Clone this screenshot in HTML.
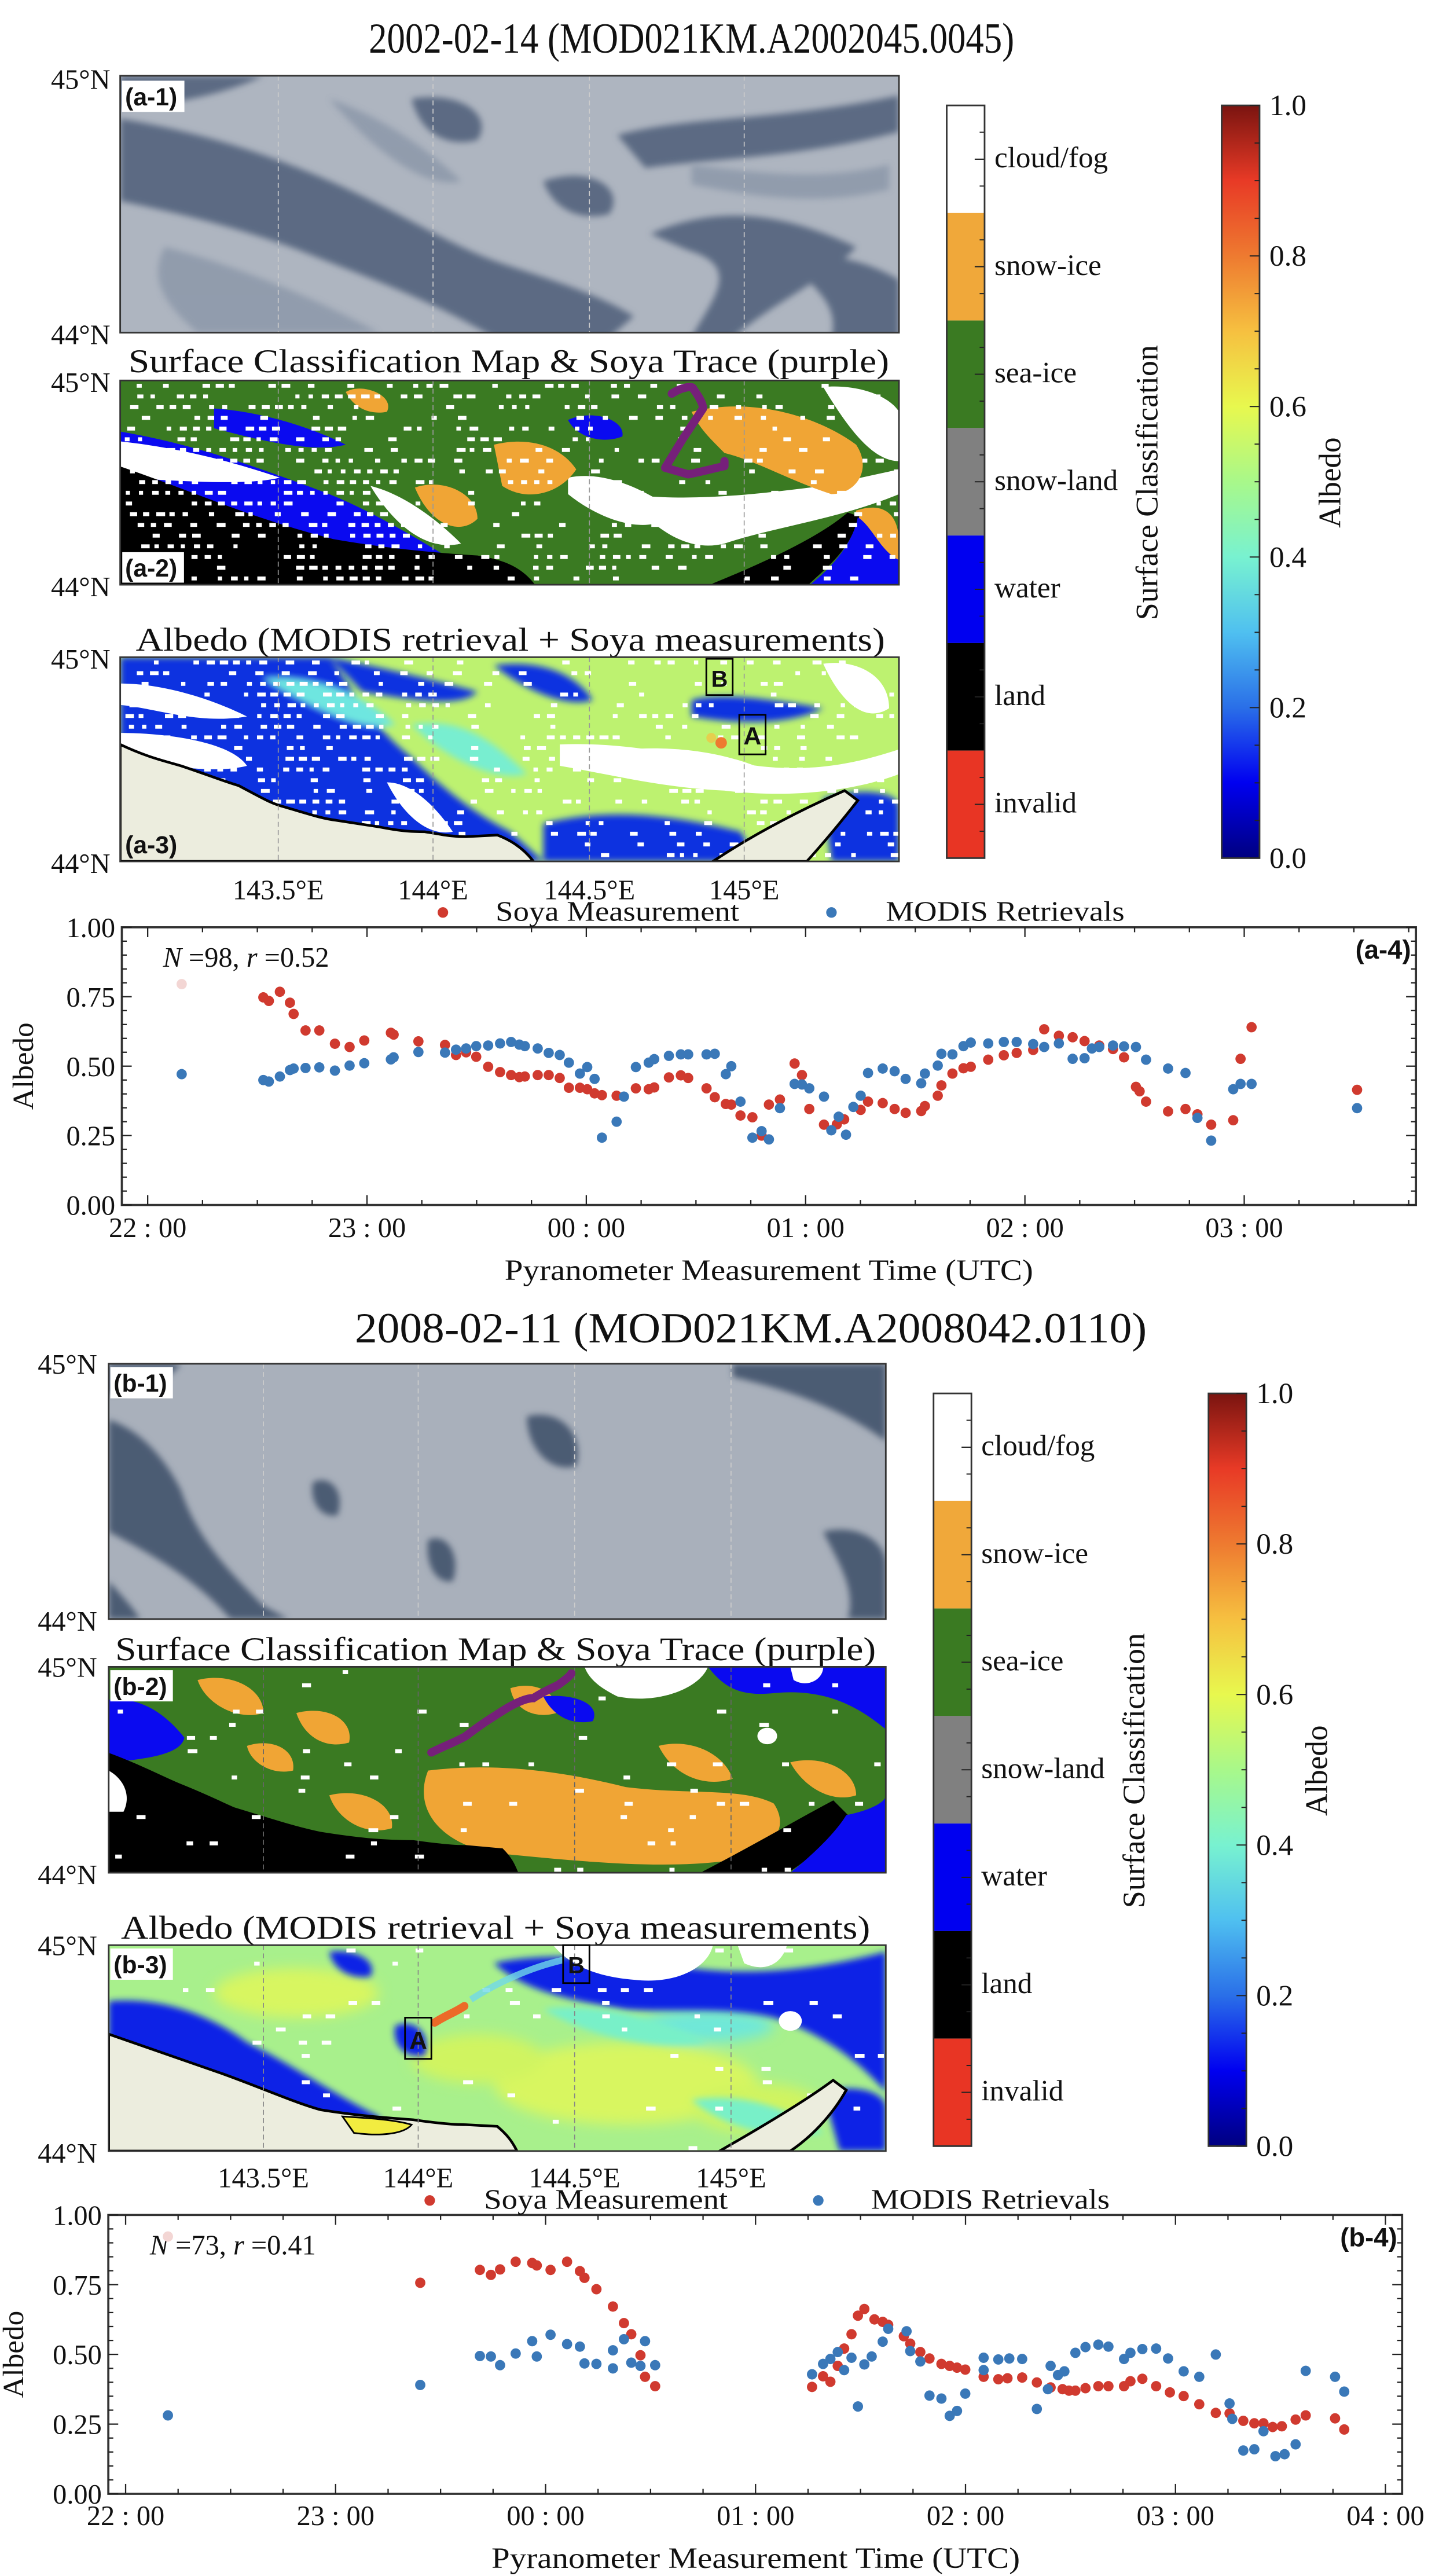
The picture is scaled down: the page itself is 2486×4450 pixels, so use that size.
<!DOCTYPE html>
<html><head><meta charset="utf-8">
<style>
html,body{margin:0;padding:0;background:#fff;}
svg{display:block;}
text{font-family:"Liberation Serif","DejaVu Serif",serif;fill:#111;}
.sans{font-family:"Liberation Sans","DejaVu Sans",sans-serif;font-weight:bold;}
</style></head>
<body>
<svg id="s" xmlns="http://www.w3.org/2000/svg" width="2486" height="4450" viewBox="0 0 874 1564" preserveAspectRatio="none">
<defs>
<linearGradient id="jet" x1="0" y1="1" x2="0" y2="0">
<stop offset="0" stop-color="#000080"/><stop offset="0.1" stop-color="#0000f0"/><stop offset="0.2" stop-color="#2a6fe8"/>
<stop offset="0.3" stop-color="#4fc0f0"/><stop offset="0.4" stop-color="#78f2d0"/><stop offset="0.5" stop-color="#a8f88a"/>
<stop offset="0.6" stop-color="#e8f84e"/><stop offset="0.7" stop-color="#f6c040"/><stop offset="0.8" stop-color="#ee7a30"/>
<stop offset="0.9" stop-color="#e83a26"/><stop offset="1" stop-color="#7a1410"/>
</linearGradient>
<filter id="blur1"><feGaussianBlur stdDeviation="4"/></filter>
<filter id="blur2"><feGaussianBlur stdDeviation="2"/></filter>
<clipPath id="c1"><rect x="73" y="46" width="473" height="156"/></clipPath>
<clipPath id="c2"><rect x="73" y="231" width="473" height="124"/></clipPath>
<clipPath id="c3"><rect x="73" y="399" width="473" height="124"/></clipPath>
<clipPath id="d1"><rect x="66" y="828" width="472" height="155"/></clipPath>
<clipPath id="d2"><rect x="66" y="1012" width="472" height="125"/></clipPath>
<clipPath id="d3"><rect x="66" y="1181" width="472" height="125"/></clipPath>
</defs>

<text x="420" y="32" font-size="26" text-anchor="middle" textLength="392" lengthAdjust="spacingAndGlyphs">2002-02-14 (MOD021KM.A2002045.0045)</text>
<text x="456" y="815" font-size="26" text-anchor="middle" textLength="481" lengthAdjust="spacingAndGlyphs">2008-02-11 (MOD021KM.A2008042.0110)</text>

<!-- a-1 -->
<g clip-path="url(#c1)">
<rect x="73" y="46" width="473" height="156" fill="#aeb5c0"/>
<g filter="url(#blur2)" fill="#5b6b83">
<path d="M73,72 C120,80 160,92 205,112 C245,130 275,150 305,160 C335,170 362,178 385,192 L370,205 L300,205 C262,182 222,168 182,152 C142,137 102,128 73,122 Z"/>
<path d="M73,46 L160,46 C135,58 100,64 73,66Z"/>
<path d="M375,82 C420,70 470,74 546,58 L546,80 C485,96 432,96 392,102 Z"/>
<path d="M395,142 C440,122 482,132 520,150 C502,170 472,182 445,205 L420,205 C432,182 452,162 418,152Z"/>
<path d="M250,60 C280,55 300,70 290,85 C270,90 255,80 250,60Z"/>
<path d="M330,110 C360,100 380,115 370,130 C350,135 335,125 330,110Z"/>
<path d="M480,160 C500,150 530,160 546,170 L546,205 L505,205 C510,185 495,175 480,160Z"/>
</g>
<g filter="url(#blur2)" fill="#8a96a8" opacity="0.8">
<path d="M100,150 C140,160 190,180 230,202 L120,202 C100,185 90,170 100,150Z"/>
<path d="M200,60 C230,70 260,90 280,110 C260,115 230,95 200,60Z"/>
<path d="M420,100 C460,105 500,110 540,100 L540,115 C500,125 460,120 420,112Z"/>
</g>
<g stroke="#ccc" stroke-width="0.6" stroke-dasharray="3,2"><line x1="169" y1="46" x2="169" y2="202"/><line x1="263" y1="46" x2="263" y2="202"/><line x1="358" y1="46" x2="358" y2="202"/><line x1="452" y1="46" x2="452" y2="202"/></g>
</g>
<rect x="73" y="46" width="473" height="156" fill="none" stroke="#333" stroke-width="1"/>
<rect x="74" y="49" width="38" height="19" fill="#fff"/>
<text class="sans" x="76" y="64" font-size="15">(a-1)</text>

<!-- a-2 -->
<text x="309" y="226" font-size="20" text-anchor="middle" textLength="462" lengthAdjust="spacingAndGlyphs">Surface Classification Map &amp; Soya Trace (purple)</text>
<g clip-path="url(#c2)">
<rect x="73" y="231" width="473" height="124" fill="#3a7a22"/>
<path d="M73,262 C120,270 160,285 200,300 C225,310 250,325 275,340 L300,355 L73,355Z" fill="#0a0af0"/>
<path d="M73,268 C110,272 140,280 170,290 C150,295 110,292 73,290Z" fill="#fff"/>
<path d="M130,248 C160,250 190,260 210,270 C190,275 160,268 130,260Z" fill="#0a0af0"/>
<path d="M225,295 C245,300 265,315 280,330 C260,335 240,320 225,295Z" fill="#fff"/>
<path d="M345,290 C370,285 395,300 410,310 C400,325 370,320 345,300Z" fill="#fff"/>
<path d="M380,300 C420,305 460,300 500,295 L546,285 L546,300 C510,315 470,320 440,330 C420,335 400,325 380,300Z" fill="#fff"/>
<path d="M500,235 C520,233 540,240 546,250 L546,280 C530,280 515,260 500,235Z" fill="#fff"/>
<path d="M420,250 C460,240 500,255 520,270 C530,285 520,300 505,300 C480,292 460,280 440,275 C430,265 425,260 420,250Z" fill="#f0a535"/>
<path d="M300,270 C320,265 340,270 350,285 C340,300 320,305 305,295Z" fill="#f0a535"/>
<path d="M252,296 C270,290 290,300 290,315 C280,325 262,320 252,296Z" fill="#f0a535"/>
<path d="M520,310 C535,305 546,310 546,330 L546,355 L525,355 C520,340 515,325 520,310Z" fill="#f0a535"/>
<path d="M210,238 C220,232 240,240 235,250 C225,252 215,248 210,238Z" fill="#f0a535"/>
<path d="M345,255 C360,248 380,255 378,265 C365,270 350,265 345,255Z" fill="#0a0af0"/>
<path d="M73,284 C120,300 148,314 202,328 C230,333 258,336 290,338 C300,340 314,342 324,355 L73,355Z" fill="#000" stroke="#000" stroke-width="1.5"/>
<path d="M433,355 C470,340 500,325 515,312 L521,314 C515,335 500,345 490,355Z" fill="#000" stroke="#000" stroke-width="1.5"/>
<path d="M521,314 C530,320 535,335 546,340 L546,355 L492,355 C505,345 518,330 521,314Z" fill="#0a0af0"/>
<g id="dash2"></g>
<g stroke="#999" stroke-width="0.6" stroke-dasharray="3,2"><line x1="169" y1="231" x2="169" y2="355"/><line x1="263" y1="231" x2="263" y2="355"/><line x1="358" y1="231" x2="358" y2="355"/><line x1="452" y1="231" x2="452" y2="355"/></g>
<path d="M408,239 C414,235 421,234 421,236 C424,240 427,245 427,248 L415,266 L404,284 L418,288 C428,286 435,284 440,283 L440,280" fill="none" stroke="#76207a" stroke-width="5" stroke-linecap="round" stroke-linejoin="round"/>
</g>
<rect x="73" y="231" width="473" height="124" fill="none" stroke="#333" stroke-width="1"/>
<rect x="74" y="335" width="38" height="19" fill="#fff" stroke="#000" stroke-width="0.5"/>
<text class="sans" x="76" y="350" font-size="15">(a-2)</text>

<!-- a-3 -->
<text x="310" y="395" font-size="20" text-anchor="middle" textLength="455" lengthAdjust="spacingAndGlyphs">Albedo (MODIS retrieval + Soya measurements)</text>
<g clip-path="url(#c3)">
<rect x="73" y="399" width="473" height="124" fill="#bdf270"/>
<g filter="url(#blur2)">
<path d="M73,399 L200,399 C215,420 225,440 250,460 C270,480 290,495 310,505 L330,523 L73,523Z" fill="#1030e0"/>
<path d="M200,399 C230,405 260,412 290,420 C280,430 250,425 220,420Z" fill="#1030e0"/>
<path d="M300,404 C330,400 350,410 360,425 C345,430 320,420 300,404Z" fill="#1030e0"/>
<path d="M330,500 C370,490 410,495 450,505 L460,523 L330,523Z" fill="#1030e0"/>
<path d="M500,485 C520,478 546,480 546,490 L546,523 L505,523Z" fill="#1030e0"/>
<path d="M420,425 C440,420 470,425 500,430 C480,440 450,440 420,435Z" fill="#1030e0"/>
<path d="M160,412 C190,410 220,420 240,440 C220,445 190,430 160,412Z" fill="#6ee6e0"/>
<path d="M250,440 C280,435 300,450 320,470 C300,475 270,460 250,440Z" fill="#78eed0"/>
</g>
<path d="M73,415 C100,415 130,425 150,435 C120,440 95,430 73,428Z" fill="#fff"/>
<path d="M73,460 C100,465 130,470 150,465 C140,450 100,445 73,445Z" fill="#fff"/>
<path d="M235,475 C250,475 265,490 275,505 C260,508 245,495 235,475Z" fill="#fff"/>
<path d="M340,452 C380,450 420,460 460,465 C500,470 530,460 546,455 L546,470 C520,480 480,485 440,480 C400,478 370,470 340,465Z" fill="#fff"/>
<path d="M500,403 C520,400 540,410 540,430 C525,440 510,425 500,403Z" fill="#fff"/>
<path d="M380,455 C420,452 450,460 470,470 C440,478 400,475 380,455Z" fill="#fff"/>
<g id="dash3"></g>
<path d="M73,452 C90,460 100,462 110,465 C125,470 135,474 145,477 C160,485 165,488 173,490 C190,495 196,497 204,498 L230,502 C245,505 252,505 258,505 C270,507 275,508 283,508 L302,507 C310,510 318,515 324,523 L73,523Z" fill="#ecedde" stroke="#000" stroke-width="1.6"/>
<path d="M433,523 C460,505 490,490 513,480 L521,486 C510,500 500,512 490,523Z" fill="#ecedde" stroke="#000" stroke-width="1.6"/>
<g stroke="#999" stroke-width="0.6" stroke-dasharray="3,2"><line x1="169" y1="399" x2="169" y2="523"/><line x1="263" y1="399" x2="263" y2="523"/><line x1="358" y1="399" x2="358" y2="523"/><line x1="452" y1="399" x2="452" y2="523"/></g>
<circle cx="438" cy="451" r="3.5" fill="#ee7a30"/>
<circle cx="432" cy="448" r="3" fill="#f6c040" opacity="0.7"/>
</g>
<rect x="73" y="399" width="473" height="124" fill="none" stroke="#333" stroke-width="1"/>
<rect x="429" y="400" width="16" height="22" fill="none" stroke="#000" stroke-width="1"/>
<text class="sans" x="437" y="417" font-size="14" font-weight="normal" text-anchor="middle">B</text>
<rect x="449" y="434" width="16" height="24" fill="none" stroke="#000" stroke-width="1"/>
<text class="sans" x="457" y="452" font-size="15" text-anchor="middle">A</text>
<text class="sans" x="76" y="518" font-size="15">(a-3)</text>

<g font-size="17" text-anchor="end">
<text x="67" y="54">45°N</text><text x="67" y="209">44°N</text>
<text x="67" y="238">45°N</text><text x="67" y="362">44°N</text>
<text x="67" y="406">45°N</text><text x="67" y="530">44°N</text>
</g>
<g font-size="17" text-anchor="middle">
<text x="169" y="546">143.5°E</text><text x="263" y="546">144°E</text><text x="358" y="546">144.5°E</text><text x="452" y="546">145°E</text>
</g>

<g font-size="17" text-anchor="end">
<text x="59" y="834">45°N</text><text x="59" y="990">44°N</text>
<text x="59" y="1018">45°N</text><text x="59" y="1144">44°N</text>
<text x="59" y="1187">45°N</text><text x="59" y="1313">44°N</text>
</g>
<g font-size="17" text-anchor="middle">
<text x="160" y="1328">143.5°E</text><text x="254" y="1328">144°E</text><text x="349" y="1328">144.5°E</text><text x="444" y="1328">145°E</text>
</g>

<!-- b-1 -->
<g clip-path="url(#d1)">
<rect x="66" y="828" width="472" height="155" fill="#a9b0bb"/>
<g filter="url(#blur2)" fill="#4c5c73">
<path d="M66,862 C85,868 100,885 110,905 C120,935 140,955 160,975 L175,983 L140,983 C120,960 95,945 66,930Z"/>
<path d="M66,960 C75,970 80,975 85,983 L66,983Z"/>
<path d="M445,828 L538,828 L538,875 C515,858 485,845 445,836Z"/>
<path d="M320,860 C340,855 355,870 350,890 C335,895 320,880 320,860Z"/>
<path d="M66,828 L110,828 C100,840 85,845 66,846Z"/>
<path d="M500,930 C520,925 538,935 538,950 L538,983 L515,983 C520,965 510,950 500,930Z"/>
<path d="M190,900 C200,895 210,905 205,920 C195,922 188,912 190,900Z"/>
<path d="M260,935 C272,930 280,945 275,960 C265,962 258,950 260,935Z"/>
</g>
<g stroke="#ccc" stroke-width="0.6" stroke-dasharray="3,2"><line x1="160" y1="828" x2="160" y2="983"/><line x1="254" y1="828" x2="254" y2="983"/><line x1="349" y1="828" x2="349" y2="983"/><line x1="444" y1="828" x2="444" y2="983"/></g>
</g>
<rect x="66" y="828" width="472" height="155" fill="none" stroke="#333" stroke-width="1"/>
<rect x="67" y="830" width="38" height="19" fill="#fff"/>
<text class="sans" x="69" y="845" font-size="15">(b-1)</text>

<!-- b-2 -->
<text x="301" y="1008" font-size="20" text-anchor="middle" textLength="462" lengthAdjust="spacingAndGlyphs">Surface Classification Map &amp; Soya Trace (purple)</text>
<g clip-path="url(#d2)">
<rect x="66" y="1012" width="472" height="125" fill="#3a7a22"/>
<g fill="#f0a535">
<path d="M260,1075 C300,1070 340,1075 380,1085 C420,1090 450,1085 470,1095 C480,1110 470,1125 440,1130 C400,1135 350,1130 300,1125 C270,1120 250,1100 260,1075Z"/>
<path d="M400,1060 C420,1055 440,1065 445,1080 C430,1085 410,1080 400,1060Z"/>
<path d="M120,1020 C140,1015 160,1025 160,1040 C145,1045 125,1035 120,1020Z"/>
<path d="M180,1040 C200,1035 215,1045 212,1058 C198,1062 185,1055 180,1040Z"/>
<path d="M200,1090 C220,1085 240,1095 238,1110 C222,1115 205,1105 200,1090Z"/>
<path d="M310,1025 C325,1020 340,1028 338,1040 C325,1044 312,1038 310,1025Z"/>
<path d="M480,1070 C500,1065 520,1075 520,1090 C505,1095 488,1085 480,1070Z"/>
<path d="M150,1060 C165,1055 180,1062 178,1075 C165,1078 152,1070 150,1060Z"/>
</g>
<path d="M66,1032 C85,1030 100,1040 112,1055 C110,1065 90,1068 66,1070Z" fill="#0a0af0"/>
<path d="M355,1012 L430,1012 C425,1025 400,1035 375,1030 C365,1025 358,1020 355,1012Z" fill="#fff"/>
<path d="M430,1012 L538,1012 L538,1050 C520,1035 500,1025 470,1028 C450,1030 440,1025 430,1012Z" fill="#0a0af0"/>
<path d="M480,1012 L500,1012 C500,1020 490,1025 482,1020Z" fill="#fff"/>
<ellipse cx="466" cy="1054" rx="6" ry="5" fill="#fff"/>
<path d="M330,1030 C350,1028 365,1035 360,1045 C345,1048 335,1040 330,1030Z" fill="#0a0af0"/>
<path d="M66,1065 C85,1072 100,1080 110,1084 C125,1090 135,1095 142,1098 C165,1105 180,1110 195,1113 C220,1117 235,1118 251,1118 C265,1120 275,1121 283,1121 L305,1123 C310,1128 312,1132 314,1137 L66,1137Z" fill="#000" stroke="#000" stroke-width="1.5"/>
<path d="M427,1137 C460,1120 485,1105 506,1094 L514,1102 C505,1115 492,1128 477,1137Z" fill="#000" stroke="#000" stroke-width="1.5"/>
<path d="M514,1102 C525,1100 538,1095 538,1090 L538,1137 L480,1137 C495,1125 508,1112 514,1102Z" fill="#0a0af0"/>
<path d="M66,1075 C75,1080 80,1090 75,1100 L66,1100Z" fill="#fff"/>
<g id="dashb2"></g>
<g stroke="#666" stroke-width="0.6" stroke-dasharray="3,2"><line x1="160" y1="1012" x2="160" y2="1137"/><line x1="254" y1="1012" x2="254" y2="1137"/><line x1="349" y1="1012" x2="349" y2="1137"/><line x1="444" y1="1012" x2="444" y2="1137"/></g>
<path d="M262,1064 C270,1060 278,1057 283,1054 C292,1047 300,1042 308,1037 C315,1033 320,1031 324,1031 C330,1027 335,1025 339,1023 C343,1020 346,1018 347,1016" fill="none" stroke="#76207a" stroke-width="5" stroke-linecap="round"/>
</g>
<rect x="66" y="1012" width="472" height="125" fill="none" stroke="#333" stroke-width="1"/>
<rect x="67" y="1014" width="38" height="19" fill="#fff"/>
<text class="sans" x="69" y="1029" font-size="15">(b-2)</text>

<!-- b-3 -->
<text x="301" y="1177" font-size="20" text-anchor="middle" textLength="455" lengthAdjust="spacingAndGlyphs">Albedo (MODIS retrieval + Soya measurements)</text>
<g clip-path="url(#d3)">
<rect x="66" y="1181" width="472" height="125" fill="#a8f08c"/>
<g filter="url(#blur1)">
<ellipse cx="380" cy="1265" rx="80" ry="25" fill="#d8f660"/>
<ellipse cx="180" cy="1210" rx="50" ry="15" fill="#d8f660"/>
<ellipse cx="290" cy="1250" rx="40" ry="15" fill="#d0f460"/>
<ellipse cx="460" cy="1280" rx="40" ry="15" fill="#d0f460"/>
<ellipse cx="430" cy="1230" rx="40" ry="10" fill="#70e8d8"/>
</g>
<g filter="url(#blur2)" fill="#0a20e6">
<path d="M66,1215 C100,1212 130,1225 150,1240 C180,1255 200,1270 230,1285 L240,1306 L66,1306Z"/>
<path d="M300,1192 C330,1185 380,1188 420,1195 C460,1200 500,1195 538,1185 L538,1270 C520,1250 500,1235 470,1225 C440,1218 410,1222 380,1220 C350,1215 320,1210 300,1192Z"/>
<path d="M200,1185 C215,1183 230,1190 225,1200 C212,1202 202,1195 200,1185Z"/>
<path d="M500,1270 C520,1265 538,1270 538,1280 L538,1306 L510,1306Z"/>
<path d="M170,1260 C185,1255 200,1265 195,1280 C180,1282 170,1272 170,1260Z"/>
<path d="M240,1230 C252,1225 262,1235 258,1248 C246,1250 238,1242 240,1230Z"/>
</g>
<g filter="url(#blur2)" fill="#78f0c8">
<path d="M330,1220 C360,1215 400,1225 430,1240 C400,1245 360,1238 330,1220Z"/>
<path d="M420,1275 C450,1270 480,1280 500,1295 C470,1300 440,1292 420,1275Z"/>
</g>
<path d="M336,1181 L433,1181 C430,1195 410,1205 385,1202 C360,1200 345,1192 336,1181Z" fill="#fff"/>
<path d="M448,1181 L478,1181 C475,1192 465,1198 452,1192Z" fill="#fff"/>
<ellipse cx="480" cy="1227" rx="7" ry="6" fill="#fff"/>
<g id="dashb3"></g>
<path d="M66,1235 C95,1245 115,1252 135,1259 C160,1268 180,1277 195,1281 C220,1285 238,1286 251,1287 C265,1289 275,1290 283,1290 L302,1291 C308,1296 311,1300 314,1306 L66,1306Z" fill="#ecedde" stroke="#000" stroke-width="1.6"/>
<path d="M208,1285 C225,1286 240,1287 250,1290 C245,1296 230,1297 215,1295Z" fill="#f2ec40" stroke="#000" stroke-width="1"/>
<path d="M437,1306 C465,1290 490,1275 506,1263 L514,1269 C505,1285 492,1298 480,1306Z" fill="#ecedde" stroke="#000" stroke-width="1.6"/>
<g stroke="#888" stroke-width="0.6" stroke-dasharray="3,2"><line x1="160" y1="1181" x2="160" y2="1306"/><line x1="254" y1="1181" x2="254" y2="1306"/><line x1="349" y1="1181" x2="349" y2="1306"/><line x1="444" y1="1181" x2="444" y2="1306"/></g>
<path d="M264,1228 C270,1224 276,1222 282,1218" stroke="#ec6a28" stroke-width="5" fill="none" stroke-linecap="round"/>
<path d="M286,1214 C300,1205 320,1195 342,1190" stroke="#70d8e8" stroke-width="4" fill="none" opacity="0.8"/>
</g>
<rect x="66" y="1181" width="472" height="125" fill="none" stroke="#333" stroke-width="1"/>
<rect x="246" y="1225" width="16" height="25" fill="none" stroke="#000" stroke-width="1"/>
<text class="sans" x="254" y="1244" font-size="15" text-anchor="middle">A</text>
<rect x="342" y="1181" width="16" height="23" fill="none" stroke="#000" stroke-width="1"/>
<text class="sans" x="350" y="1198" font-size="14" font-weight="normal" text-anchor="middle">B</text>
<rect x="67" y="1183" width="38" height="19" fill="#fff"/>
<text class="sans" x="69" y="1198" font-size="15">(b-3)</text>

</svg>
<script>
(function(){
var NS="http://www.w3.org/2000/svg";
function el(tag,attrs,parent,txt){var e=document.createElementNS(NS,tag);for(var k in attrs)e.setAttribute(k,attrs[k]);if(txt!==undefined)e.textContent=txt;(parent||document.getElementById('s')).appendChild(e);return e;}
var seed=7;function rnd(){seed=(seed*16807)%2147483647;return seed/2147483647;}
function dashes(id,x0,y0,w,h,dx,dy,prob,fn,wmin,wvar){
 var g=document.getElementById(id);
 for(var y=y0+2;y<y0+h;y+=dy){for(var x=x0+2+(rnd()*4);x<x0+w;x+=dx){
  var p=fn?fn(x,y):prob; if(rnd()<p){el('rect',{x:x.toFixed(1),y:y.toFixed(1),width:(wmin+rnd()*wvar).toFixed(1),height:'2.4',fill:'#fff'},g);}
 }}
}
dashes('dash2',73,231,473,124,8,6.5,0,function(x,y){ if(x<250) return 0.65; if(x<420) return 0.42; return 0.28;},2.5,3);
dashes('dash3',73,399,473,124,8,6.5,0,function(x,y){ if(x<260) return 0.6; return 0.3;},2.5,3);
dashes('dashb2',66,1012,472,125,14,8,0.12,null,3,3);
dashes('dashb3',66,1181,472,125,14,8,0.1,null,3,3);

function classbar(x,y,w,h,lx){
 var cols=['#ffffff','#f0a83a','#3a7a22','#808080','#0000f0','#000000','#e83524'];
 var names=['cloud/fog','snow-ice','sea-ice','snow-land','water','land','invalid'];
 var sh=h/7;
 for(var i=0;i<7;i++){el('rect',{x:x,y:y+i*sh,width:w,height:sh,fill:cols[i]});
  el('text',{x:lx,y:y+(i+0.5)*sh+5,'font-size':'18'},null,names[i]);
  for(var j=0;j<3;j++){var ty=y+(i+0.25+j*0.25)*sh;el('line',{x1:x+w-(j==1?6:3),y1:ty,x2:x+w,y2:ty,stroke:'#222','stroke-width':'0.7'});}
 }
 el('rect',{x:x,y:y,width:w,height:h,fill:'none',stroke:'#333','stroke-width':'1'});
}
function jetbar(x,y,w,h,lx){
 el('rect',{x:x,y:y,width:w,height:h,fill:'url(#jet)',stroke:'#333','stroke-width':'1'});
 for(var i=0;i<=20;i++){var ty=y+h-i*h/20;var L=(i%4==0)?6:3;el('line',{x1:x+w-L,y1:ty,x2:x+w,y2:ty,stroke:'#222','stroke-width':'0.7'});}
 for(var i=0;i<=5;i++){el('text',{x:lx,y:y+h-i*h/5+6,'font-size':'18'},null,(i*0.2).toFixed(1));}
}
classbar(575,64,23,457,604);
jetbar(742,64,23,457,771);
el('text',{x:0,y:0,'font-size':'19',transform:'translate(703,293) rotate(-90)','text-anchor':'middle',textLength:'167',lengthAdjust:'spacingAndGlyphs'},null,'Surface Classification');
el('text',{x:0,y:0,'font-size':'19',transform:'translate(814,293) rotate(-90)','text-anchor':'middle',textLength:'55',lengthAdjust:'spacingAndGlyphs'},null,'Albedo');
classbar(567,846,23,457,596);
jetbar(734,846,23,457,763);
el('text',{x:0,y:0,'font-size':'19',transform:'translate(695,1075) rotate(-90)','text-anchor':'middle',textLength:'167',lengthAdjust:'spacingAndGlyphs'},null,'Surface Classification');
el('text',{x:0,y:0,'font-size':'19',transform:'translate(806,1075) rotate(-90)','text-anchor':'middle',textLength:'55',lengthAdjust:'spacingAndGlyphs'},null,'Albedo');

function plot(o){
 var L=o.L,R=o.R,T=o.T,B=o.B;
 el('rect',{x:L,y:T,width:R-L,height:B-T,fill:'none',stroke:'#333','stroke-width':'1.3'});
 for(var v=0;v<=100;v+=5){var y=B-(B-T)*v/100;var len=(v%25==0)?6:3;
  el('line',{x1:L,y1:y,x2:L+len,y2:y,stroke:'#222','stroke-width':'0.8'});
  el('line',{x1:R-len,y1:y,x2:R,y2:y,stroke:'#222','stroke-width':'0.8'});
  if(v%25==0) el('text',{x:L-4,y:y+6,'font-size':'17','text-anchor':'end'},null,(v/100).toFixed(2));
 }
 for(var q=0;q<=o.hours*4;q++){var x=o.x0+q*o.ph/4;if(x>R)break;var len=(q%4==0)?6:3;
  el('line',{x1:x,y1:B,x2:x,y2:B-len,stroke:'#222','stroke-width':'0.8'});
  el('line',{x1:x,y1:T,x2:x,y2:T+len,stroke:'#222','stroke-width':'0.8'});
 }
 for(var i=0;i<o.labels.length;i++){el('text',{x:o.x0+i*o.ph,y:o.ly,'font-size':'17','text-anchor':'middle'},null,o.labels[i]);}
 el('text',{x:o.xlx,y:o.xly,'font-size':'18','text-anchor':'middle',textLength:'321',lengthAdjust:'spacingAndGlyphs'},null,'Pyranometer Measurement Time (UTC)');
 el('text',{x:0,y:0,'font-size':'18','text-anchor':'middle',transform:'translate('+o.ylx+','+((T+B)/2)+') rotate(-90)'},null,'Albedo');
 var t=el('text',{x:o.nx,y:T+24,'font-size':'17'});
 t.innerHTML='<tspan font-style="italic">N</tspan> ='+o.N+', <tspan font-style="italic">r</tspan> ='+o.r;
 el('text',{x:R-3,y:T+19,'font-size':'16','text-anchor':'end','class':'sans'},null,o.tag);
 el('circle',{cx:o.leg[0],cy:o.legy,r:3.2,fill:'#d03a2f'});
 el('text',{x:o.leg[1],y:o.legy+5,'font-size':'17',textLength:'148',lengthAdjust:'spacingAndGlyphs'},null,'Soya Measurement');
 el('circle',{cx:o.leg[2],cy:o.legy,r:3.2,fill:'#3a78b8'});
 el('text',{x:o.leg[3],y:o.legy+5,'font-size':'17',textLength:'145',lengthAdjust:'spacingAndGlyphs'},null,'MODIS Retrievals');
 var g=el('g',{transform:o.tf});
 function pts(arr,col,first){for(var i=0;i<arr.length;i+=2){el('ellipse',{cx:arr[i],cy:arr[i+1],rx:o.rx,ry:o.ry,fill:(first&&i==0)?'#f3d6d4':col},g);}}
 pts(o.red,'#d03a2f',true); pts(o.blue,'#3a78b8',false);
}
plot({L:74,R:860,T:563,B:731.6,x0:89.7,ph:133.2,hours:7,labels:['22 : 00','23 : 00','00 : 00','01 : 00','02 : 00','03 : 00'],ly:751,xlx:467,xly:777,ylx:20,nx:99,N:'98',r:'0.52',tag:'(a-4)',legy:554,leg:[269,301,505,538],
 tf:'matrix(0.5573,0,0,0.1793,0,527.2)',rx:5.6,ry:17.5,
 red:[198,392,287,437,293,449,305,418,316,455,320,493,333,549,348,549,365,594,381,605,397,583,426,557,429,563,456,586,485,598,497,632,508,623,519,638,532,672,545,690,557,700,566,707,572,705,586,700,598,700,610,710,620,743,632,743,640,748,648,762,656,768,672,770,693,745,707,748,713,742,729,708,742,701,750,710,770,745,779,775,791,798,797,800,807,837,820,843,830,905,838,800,850,783,866,661,874,700,882,815,898,868,912,867,920,850,938,818,946,790,962,795,975,815,987,828,1004,822,1008,805,1022,770,1026,735,1038,695,1050,677,1058,672,1077,648,1094,633,1108,625,1126,615,1138,545,1154,567,1169,572,1182,585,1198,600,1213,612,1225,640,1238,740,1242,755,1249,790,1273,823,1292,815,1305,833,1320,868,1344,853,1352,645,1364,538,1479,750],
 blue:[198,697,287,717,293,722,305,705,316,683,320,678,333,676,348,674,365,685,381,668,397,660,426,647,429,640,456,622,485,624,497,614,508,610,519,602,532,600,545,593,557,588,566,597,572,602,586,610,598,625,610,632,620,658,632,695,640,673,648,713,656,912,672,858,680,773,693,673,707,658,713,646,729,635,742,630,750,630,770,630,779,628,791,697,797,670,807,790,820,912,830,890,838,918,850,812,866,730,874,732,882,745,898,773,906,887,914,841,922,902,930,808,938,770,946,693,962,678,975,687,987,713,1004,728,1008,695,1022,668,1026,628,1038,630,1050,602,1058,590,1077,593,1094,588,1108,588,1126,595,1138,605,1154,593,1169,645,1182,643,1190,610,1198,605,1213,600,1225,603,1238,605,1249,648,1273,678,1292,693,1305,845,1320,922,1344,748,1352,730,1364,730,1479,812]});
plot({L:65.8,R:851.6,T:1344.8,B:1514.1,x0:76.3,ph:127.53,hours:6,labels:['22 : 00','23 : 00','00 : 00','01 : 00','02 : 00','03 : 00','04 : 00'],ly:1533,xlx:459,xly:1559,ylx:14,nx:91,N:'73',r:'0.41',tag:'(b-4)',legy:1336,leg:[261,294,497,529],
 tf:'matrix(0.5573,0,0,0.1502,0,1328.6)',rx:5.6,ry:21,
 red:[183,195,458,382,523,330,535,350,545,328,562,297,580,302,585,312,600,330,618,297,632,335,637,362,650,408,668,478,680,545,688,590,698,675,703,762,714,800,885,803,897,760,905,782,913,718,920,648,928,590,935,515,942,488,953,530,962,540,968,552,985,598,992,628,1003,662,1013,688,1026,710,1035,718,1043,725,1052,733,1072,762,1088,772,1098,768,1114,765,1130,785,1145,805,1158,812,1165,818,1172,818,1183,808,1197,800,1208,800,1225,800,1232,780,1245,770,1260,800,1275,825,1290,840,1307,873,1325,908,1340,910,1355,940,1367,950,1377,950,1387,965,1397,962,1412,935,1423,918,1455,930,1465,975],
 blue:[183,918,458,795,523,678,535,680,545,715,562,668,580,618,585,680,600,592,618,630,632,640,637,708,650,710,668,655,668,728,680,610,688,705,698,718,703,618,714,715,885,752,897,710,905,690,913,662,920,735,928,685,935,882,942,712,950,680,962,620,968,568,988,578,992,658,1003,700,1013,838,1026,850,1035,920,1043,900,1052,830,1072,685,1072,735,1088,692,1100,688,1114,690,1130,892,1142,812,1145,718,1153,755,1160,740,1172,665,1183,642,1197,632,1208,640,1225,690,1232,665,1245,650,1260,648,1273,688,1290,740,1307,762,1325,672,1340,870,1343,932,1355,1060,1367,1055,1377,982,1390,1083,1400,1075,1412,1035,1423,738,1455,762,1465,822]});
})();
</script>
</body></html>
